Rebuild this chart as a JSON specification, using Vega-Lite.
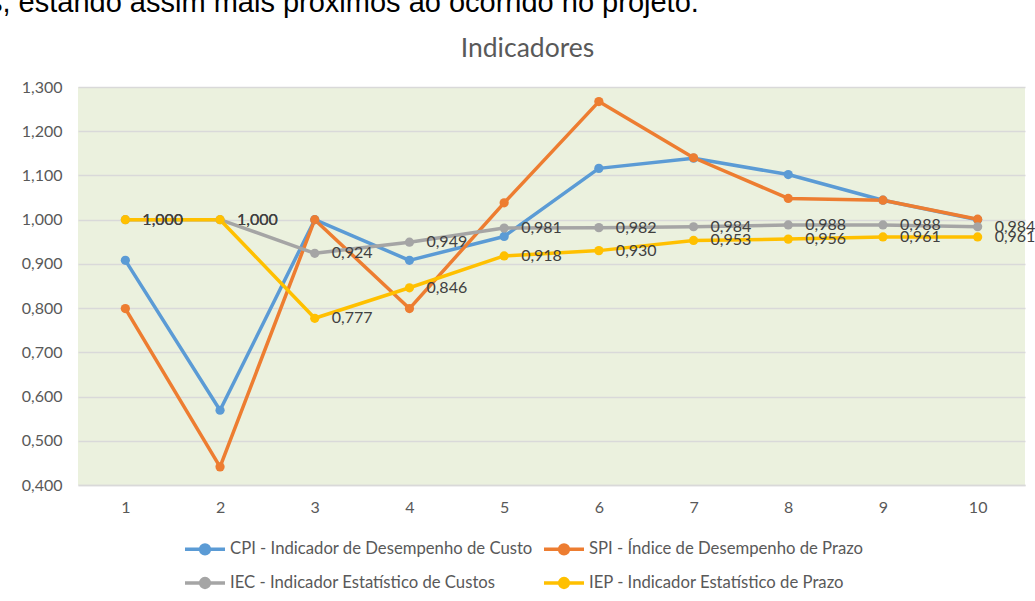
{
  "$schema": "https://vega.github.io/schema/vega-lite/v6.json",
  "autosize": {"type": "none"},
  "width": 947,
  "height": 398,
  "padding": {"left": 78, "top": 87, "right": 10, "bottom": 116},
  "background": "white",
  "title": {
    "text": "s, estando assim mais próximos ao ocorrido no projeto.",
    "anchor": "start",
    "frame": "group",
    "dx": -90,
    "dy": 31,
    "font": "Liberation Sans",
    "fontSize": 29,
    "fontWeight": "normal",
    "color": "#000000",
    "baseline": "alphabetic",
    "offset": 25
  },
  "data": {
    "values": [
      {"series": "CPI - Indicador de Desempenho de Custo", "x": 1, "value": 0.908},
      {"series": "CPI - Indicador de Desempenho de Custo", "x": 2, "value": 0.569},
      {"series": "CPI - Indicador de Desempenho de Custo", "x": 3, "value": 1.0},
      {"series": "CPI - Indicador de Desempenho de Custo", "x": 4, "value": 0.908},
      {"series": "CPI - Indicador de Desempenho de Custo", "x": 5, "value": 0.962},
      {"series": "CPI - Indicador de Desempenho de Custo", "x": 6, "value": 1.116},
      {"series": "CPI - Indicador de Desempenho de Custo", "x": 7, "value": 1.139},
      {"series": "CPI - Indicador de Desempenho de Custo", "x": 8, "value": 1.102},
      {"series": "CPI - Indicador de Desempenho de Custo", "x": 9, "value": 1.044},
      {"series": "CPI - Indicador de Desempenho de Custo", "x": 10, "value": 1.0},
      {"series": "SPI - Índice de Desempenho de Prazo", "x": 1, "value": 0.799},
      {"series": "SPI - Índice de Desempenho de Prazo", "x": 2, "value": 0.441},
      {"series": "SPI - Índice de Desempenho de Prazo", "x": 3, "value": 1.0},
      {"series": "SPI - Índice de Desempenho de Prazo", "x": 4, "value": 0.799},
      {"series": "SPI - Índice de Desempenho de Prazo", "x": 5, "value": 1.038},
      {"series": "SPI - Índice de Desempenho de Prazo", "x": 6, "value": 1.267},
      {"series": "SPI - Índice de Desempenho de Prazo", "x": 7, "value": 1.14},
      {"series": "SPI - Índice de Desempenho de Prazo", "x": 8, "value": 1.048},
      {"series": "SPI - Índice de Desempenho de Prazo", "x": 9, "value": 1.044},
      {"series": "SPI - Índice de Desempenho de Prazo", "x": 10, "value": 1.001},
      {"series": "IEC - Indicador Estatístico de Custos", "x": 1, "value": 1.0},
      {"series": "IEC - Indicador Estatístico de Custos", "x": 2, "value": 1.0},
      {"series": "IEC - Indicador Estatístico de Custos", "x": 3, "value": 0.924},
      {"series": "IEC - Indicador Estatístico de Custos", "x": 4, "value": 0.949},
      {"series": "IEC - Indicador Estatístico de Custos", "x": 5, "value": 0.981},
      {"series": "IEC - Indicador Estatístico de Custos", "x": 6, "value": 0.982},
      {"series": "IEC - Indicador Estatístico de Custos", "x": 7, "value": 0.984},
      {"series": "IEC - Indicador Estatístico de Custos", "x": 8, "value": 0.988},
      {"series": "IEC - Indicador Estatístico de Custos", "x": 9, "value": 0.988},
      {"series": "IEC - Indicador Estatístico de Custos", "x": 10, "value": 0.984},
      {"series": "IEP - Indicador Estatístico de Prazo", "x": 1, "value": 1.0},
      {"series": "IEP - Indicador Estatístico de Prazo", "x": 2, "value": 1.0},
      {"series": "IEP - Indicador Estatístico de Prazo", "x": 3, "value": 0.777},
      {"series": "IEP - Indicador Estatístico de Prazo", "x": 4, "value": 0.846},
      {"series": "IEP - Indicador Estatístico de Prazo", "x": 5, "value": 0.918},
      {"series": "IEP - Indicador Estatístico de Prazo", "x": 6, "value": 0.93},
      {"series": "IEP - Indicador Estatístico de Prazo", "x": 7, "value": 0.953},
      {"series": "IEP - Indicador Estatístico de Prazo", "x": 8, "value": 0.956},
      {"series": "IEP - Indicador Estatístico de Prazo", "x": 9, "value": 0.961},
      {"series": "IEP - Indicador Estatístico de Prazo", "x": 10, "value": 0.961}
    ]
  },
  "layer": [
    {
      "mark": {"type": "line", "strokeWidth": 3.5, "strokeJoin": "round", "point": {"filled": true, "size": 85}},
      "encoding": {
        "x": {
          "field": "x", "type": "ordinal", "scale": {"padding": 0.5},
          "axis": {
            "labelAngle": 0, "ticks": false, "grid": false,
            "domain": true, "domainColor": "#D9D9D9", "domainWidth": 1.3,
            "labelPadding": 14,
            "title": "Indicadores",
            "titleX": 449, "titleY": -429,
            "titleAlign": "center", "titleBaseline": "alphabetic",
            "titleFont": "Lato", "titleFontSize": 26.5, "titleFontWeight": "normal", "titleColor": "#595959"
          }
        },
        "y": {
          "field": "value", "type": "quantitative",
          "scale": {"domain": [0.4, 1.3], "nice": false, "zero": false},
          "axis": {
            "values": [0.4, 0.5, 0.6, 0.7, 0.8, 0.9, 1.0, 1.1, 1.2, 1.3],
            "format": ".3f", "grid": true, "gridColor": "#D9D9D9", "gridWidth": 1.3,
            "domain": false, "ticks": false, "labelPadding": 16, "title": null
          }
        },
        "color": {
          "field": "series", "type": "nominal",
          "scale": {
            "domain": ["CPI - Indicador de Desempenho de Custo", "IEC - Indicador Estatístico de Custos", "SPI - Índice de Desempenho de Prazo", "IEP - Indicador Estatístico de Prazo"],
            "range": ["#5B9BD5", "#A5A5A5", "#ED7D31", "#FFC000"]
          },
          "legend": {
            "orient": "none", "legendX": 105, "legendY": 440,
            "columns": 2, "title": null,
            "symbolType": "M-1,0H1M-0.22,0A0.22,0.22 0 1,0 0.22,0A0.22,0.22 0 1,0 -0.22,0",
            "symbolSize": 1600, "symbolStrokeWidth": 3.5,
            "labelFont": "Lato", "labelFontSize": 16.7, "labelColor": "#595959",
            "labelOffset": 3, "labelLimit": 0, "rowPadding": -6, "columnPadding": 4,
            "encode": {"symbols": {"update": {"fill": {"scale": "color", "field": "value"}, "stroke": {"scale": "color", "field": "value"}}}}
          }
        }
      }
    },
    {
      "transform": [{"filter": {"field": "series", "oneOf": ["IEC - Indicador Estatístico de Custos", "IEP - Indicador Estatístico de Prazo"]}}],
      "mark": {"type": "text", "align": "left", "baseline": "middle", "dx": 17, "font": "Lato", "fontSize": 16, "color": "#404040"},
      "encoding": {
        "x": {"field": "x", "type": "ordinal"},
        "y": {"field": "value", "type": "quantitative"},
        "text": {"field": "value", "type": "quantitative", "format": ".3f"}
      }
    }
  ],
  "config": {
    "locale": {"number": {"decimal": ",", "thousands": ".", "grouping": [3], "currency": ["R$", ""]}},
    "view": {"stroke": null, "fill": "#EBF1DE"},
    "axis": {"labelFont": "Lato", "labelFontSize": 16, "labelColor": "#595959"}
  }
}
